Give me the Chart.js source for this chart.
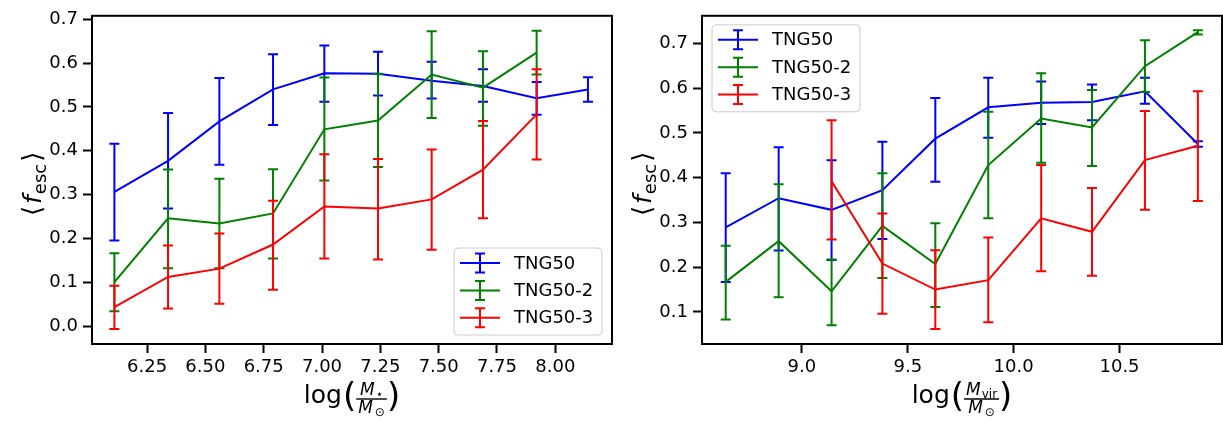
<!DOCTYPE html>
<html>
<head>
<meta charset="utf-8">
<script src="https://cdn.jsdelivr.net/npm/chart.js@4.4.1/dist/chart.umd.min.js"></script>
<style>
  body { margin: 0; background: #fff; }
  .panel { position: absolute; top: 0; height: 425px; }
  #left { left: 0; width: 614px; }
  #right { left: 614px; width: 609px; }
</style>
</head>
<body>
<div class="panel" id="left"><canvas id="chartLeft" width="614" height="425"></canvas></div>
<div class="panel" id="right"><canvas id="chartRight" width="609" height="425"></canvas></div>
<script>
// series + bins
const seriesNames = ["TNG50", "TNG50-2", "TNG50-3"];
const seriesColors = ["#0000ff", "#008000", "#ff0000"];

// left panel: stellar mass bins
const starMassBins = [6.11, 6.34, 6.56, 6.79, 7.01, 7.24, 7.47, 7.69, 7.92, 8.14];
const starTicks = [6.25, 6.5, 6.75, 7.0, 7.25, 7.5, 7.75, 8.0];
const fescTicksLeft = [0.0, 0.1, 0.2, 0.3, 0.4, 0.5, 0.6, 0.7];

const tng50Star   = [0.306, 0.377, 0.467, 0.540, 0.577, 0.576, 0.560, 0.548, 0.520, 0.540];
const tng50StarLo = [0.195, 0.268, 0.368, 0.459, 0.512, 0.526, 0.519, 0.512, 0.482, 0.512];
const tng50StarHi = [0.416, 0.486, 0.566, 0.620, 0.640, 0.626, 0.603, 0.586, 0.557, 0.568];

const tng502Star   = [0.100, 0.246, 0.234, 0.257, 0.449, 0.469, 0.574, 0.544, 0.624, null];
const tng502StarLo = [0.034, 0.132, 0.132, 0.154, 0.332, 0.363, 0.475, 0.457, 0.574, null];
const tng502StarHi = [0.166, 0.357, 0.336, 0.358, 0.567, 0.576, 0.673, 0.627, 0.674, null];

const tng503Star   = [0.043, 0.112, 0.131, 0.186, 0.273, 0.268, 0.289, 0.357, 0.483, null];
const tng503StarLo = [-0.007, 0.040, 0.051, 0.083, 0.154, 0.152, 0.174, 0.246, 0.380, null];
const tng503StarHi = [0.092, 0.184, 0.211, 0.286, 0.392, 0.381, 0.403, 0.468, 0.586, null];

// right panel: virial mass bins
const virMassBins = [8.64, 8.89, 9.14, 9.38, 9.63, 9.88, 10.13, 10.37, 10.62, 10.87];
const virTicks = [9.0, 9.5, 10.0, 10.5];
const fescTicksRight = [0.1, 0.2, 0.3, 0.4, 0.5, 0.6, 0.7];

const tng50Vir   = [0.289, 0.354, 0.328, 0.372, 0.487, 0.557, 0.567, 0.569, 0.593, 0.475];
const tng50VirLo = [0.167, 0.237, 0.216, 0.263, 0.391, 0.489, 0.520, 0.528, 0.565, 0.469];
const tng50VirHi = [0.410, 0.468, 0.439, 0.480, 0.578, 0.623, 0.615, 0.608, 0.623, 0.481];

const tng502Vir   = [0.167, 0.258, 0.146, 0.292, 0.207, 0.428, 0.532, 0.512, 0.649, 0.725];
const tng502VirLo = [0.083, 0.133, 0.070, 0.176, 0.111, 0.309, 0.433, 0.426, 0.591, 0.720];
const tng502VirHi = [0.248, 0.385, 0.217, 0.410, 0.298, 0.547, 0.633, 0.596, 0.707, 0.729];

const tng503Vir   = [null, null, 0.392, 0.208, 0.150, 0.171, 0.309, 0.279, 0.439, 0.471];
const tng503VirLo = [null, null, 0.262, 0.096, 0.062, 0.077, 0.191, 0.181, 0.328, 0.348];
const tng503VirHi = [null, null, 0.528, 0.320, 0.238, 0.266, 0.428, 0.377, 0.549, 0.593];

Chart.defaults.font.family = "DejaVu Sans";
Chart.defaults.color = "#000";

const FONT = '"DejaVu Sans"';

function makeSets(xs, means, los, his) {
  return seriesNames.map((name, k) => ({
    label: name,
    data: xs.map((x, i) => ({ x: x, y: means[k][i] })),
    errLo: los[k],
    errHi: his[k],
    borderColor: seriesColors[k],
    backgroundColor: seriesColors[k],
    borderWidth: 2,
    pointRadius: 0,
    tension: 0,
    fill: false,
    order: 3 - k   // blue drawn first, red on top
  }));
}

// vertical error bars with caps, drawn right after each line
const errorBars = {
  id: "errorBars",
  afterDatasetDraw(chart, args) {
    const ds = chart.data.datasets[args.index];
    const xs = chart.scales.x, ys = chart.scales.y, ctx = chart.ctx;
    ctx.save();
    ctx.strokeStyle = ds.borderColor;
    ctx.lineWidth = 2;
    ds.data.forEach((p, i) => {
      const lo = ds.errLo[i], hi = ds.errHi[i];
      if (lo == null || hi == null) return;
      const px = xs.getPixelForValue(p.x);
      const y1 = ys.getPixelForValue(lo), y2 = ys.getPixelForValue(hi);
      ctx.beginPath();
      ctx.moveTo(px, y1); ctx.lineTo(px, y2);
      ctx.moveTo(px - 5, y1); ctx.lineTo(px + 5, y1);
      ctx.moveTo(px - 5, y2); ctx.lineTo(px + 5, y2);
      ctx.stroke();
    });
    ctx.restore();
  }
};

// full box frame like matplotlib spines
const frame = {
  id: "frame",
  afterDatasetsDraw(chart) {
    const a = chart.chartArea, ctx = chart.ctx;
    ctx.save();
    ctx.strokeStyle = "#000";
    ctx.lineWidth = 2;
    ctx.strokeRect(a.left, a.top, a.right - a.left, a.bottom - a.top);
    ctx.restore();
  }
};

function drawParts(ctx, parts, x, base) {
  parts.forEach(p => {
    ctx.font = p.font;
    ctx.fillText(p.text, x, base + (p.dy || 0));
    x += ctx.measureText(p.text).width + (p.gap || 0);
  });
}

function partsWidth(ctx, parts) {
  let w = 0;
  parts.forEach(p => { ctx.font = p.font; w += ctx.measureText(p.text).width + (p.gap || 0); });
  return w;
}

// axis titles: log(M/M_sun) fraction and <f_esc>
const titles = {
  id: "titles",
  afterDraw(chart, args, opts) {
    const ctx = chart.ctx, a = chart.chartArea;
    ctx.save();
    ctx.fillStyle = "#000";
    ctx.strokeStyle = "#000";
    ctx.textAlign = "left";
    ctx.textBaseline = "alphabetic";

    // x title
    const fLog = "25px " + FONT, fPar = "34px " + FONT;
    const fM = "italic 17px " + FONT, fSub = "12px " + FONT;
    const num = [{ text: "M", font: fM, gap: 1 }, { text: opts.numSub, font: fSub, dy: 3 }];
    const den = [{ text: "M", font: fM, gap: 2 }, { text: "\u2299", font: fSub, dy: 3 }];
    ctx.font = fLog; const wLog = ctx.measureText("log").width;
    ctx.font = fPar; const wPar = ctx.measureText("(").width;
    const wNum = partsWidth(ctx, num), wDen = partsWidth(ctx, den);
    const wFrac = Math.max(wNum, wDen) + 4;
    const total = wLog + 1 + wPar + wFrac + wPar;
    const b = a.bottom + 59;
    let x = (a.left + a.right) / 2 - total / 2;
    ctx.font = fLog; ctx.fillText("log", x, b); x += wLog + 1;
    ctx.font = fPar; ctx.fillText("(", x, b + 4); x += wPar;
    const bar = b - 4;
    ctx.lineWidth = 1.4;
    ctx.beginPath(); ctx.moveTo(x, bar); ctx.lineTo(x + wFrac, bar); ctx.stroke();
    drawParts(ctx, num, x + (wFrac - wNum) / 2, bar - 4);
    drawParts(ctx, den, x + (wFrac - wDen) / 2, bar + 14);
    x += wFrac;
    ctx.font = fPar; ctx.fillText(")", x, b + 4);

    // y title, rotated
    const yParts = [
      { text: "\u27E8", font: "26px " + FONT, gap: 2 },
      { text: "f", font: "italic 25px " + FONT, gap: 1 },
      { text: "esc", font: "18px " + FONT, dy: 5, gap: 2 },
      { text: "\u27E9", font: "26px " + FONT }
    ];
    const wy = partsWidth(ctx, yParts);
    ctx.translate(a.left - 51, (a.top + a.bottom) / 2 + 4);
    ctx.rotate(-Math.PI / 2);
    drawParts(ctx, yParts, -wy / 2, 0);
    ctx.restore();
  }
};

// legend with error-bar handles
const ebLegend = {
  id: "ebLegend",
  afterDraw(chart, args, opts) {
    const ctx = chart.ctx, a = chart.chartArea;
    const w = 148, h = 87;
    const x0 = opts.corner === "lower right" ? a.right - 10 - w : a.left + 10;
    const y0 = opts.corner === "lower right" ? a.bottom - 9 - h : a.top + 9;
    ctx.save();
    ctx.beginPath();
    ctx.roundRect(x0, y0, w, h, 4);
    ctx.fillStyle = "rgba(255,255,255,0.8)";
    ctx.fill();
    ctx.strokeStyle = "#cccccc";
    ctx.lineWidth = 1;
    ctx.stroke();
    chart.data.datasets.forEach((ds, i) => {
      const y = y0 + 15 + i * 27.4;
      const hx = x0 + 26;
      ctx.strokeStyle = ds.borderColor;
      ctx.lineWidth = 2;
      ctx.beginPath();
      ctx.moveTo(x0 + 6, y); ctx.lineTo(x0 + 46, y);
      ctx.moveTo(hx, y - 9.5); ctx.lineTo(hx, y + 9.5);
      ctx.moveTo(hx - 5, y - 9.5); ctx.lineTo(hx + 5, y - 9.5);
      ctx.moveTo(hx - 5, y + 9.5); ctx.lineTo(hx + 5, y + 9.5);
      ctx.stroke();
      ctx.fillStyle = "#000";
      ctx.font = "18px " + FONT;
      ctx.textBaseline = "middle";
      ctx.fillText(ds.label, x0 + 60, y + 1);
    });
    ctx.restore();
  }
};

function axes(xMin, xMax, xTicks, xDigits, yMin, yMax, yTicks, yWidth) {
  const grid = { display: true, drawOnChartArea: false, drawTicks: true, tickLength: 9, tickWidth: 2, tickColor: "#000" };
  return {
    x: {
      type: "linear", min: xMin, max: xMax,
      afterBuildTicks: s => { s.ticks = xTicks.map(v => ({ value: v })); },
      afterFit: s => { s.height = 81; },
      grid: grid,
      border: { display: false },
      ticks: { autoSkip: false, maxRotation: 0, padding: 4, color: "#000",
               font: { size: 18 }, callback: v => Number(v).toFixed(xDigits) }
    },
    y: {
      type: "linear", min: yMin, max: yMax,
      afterBuildTicks: s => { s.ticks = yTicks.map(v => ({ value: v })); },
      afterFit: s => { s.width = yWidth; },
      grid: grid,
      border: { display: false },
      ticks: { autoSkip: false, padding: 5, color: "#000",
               font: { size: 18 }, callback: v => Number(v).toFixed(1) }
    }
  };
}

new Chart(document.getElementById("chartLeft"), {
  type: "line",
  data: {
    datasets: makeSets(starMassBins,
      [tng50Star, tng502Star, tng503Star],
      [tng50StarLo, tng502StarLo, tng503StarLo],
      [tng50StarHi, tng502StarHi, tng503StarHi])
  },
  options: {
    responsive: false,
    animation: false,
    devicePixelRatio: 1,
    layout: { padding: { top: 7, right: 2, left: 0, bottom: 0 } },
    scales: axes(6.014, 8.243, starTicks, 2, -0.041, 0.708, fescTicksLeft, 92),
    plugins: {
      legend: { display: false },
      tooltip: { enabled: false },
      titles: { numSub: "\u22C6" },
      ebLegend: { corner: "lower right" }
    }
  },
  plugins: [errorBars, frame, titles, ebLegend]
});

new Chart(document.getElementById("chartRight"), {
  type: "line",
  data: {
    datasets: makeSets(virMassBins,
      [tng50Vir, tng502Vir, tng503Vir],
      [tng50VirLo, tng502VirLo, tng503VirLo],
      [tng50VirHi, tng502VirHi, tng503VirHi])
  },
  options: {
    responsive: false,
    animation: false,
    devicePixelRatio: 1,
    layout: { padding: { top: 7, right: 1, left: 0, bottom: 0 } },
    scales: axes(8.528, 10.984, virTicks, 1, 0.0283, 0.7615, fescTicksRight, 88),
    plugins: {
      legend: { display: false },
      tooltip: { enabled: false },
      titles: { numSub: "vir" },
      ebLegend: { corner: "upper left" }
    }
  },
  plugins: [errorBars, frame, titles, ebLegend]
});
</script>
</body>
</html>
